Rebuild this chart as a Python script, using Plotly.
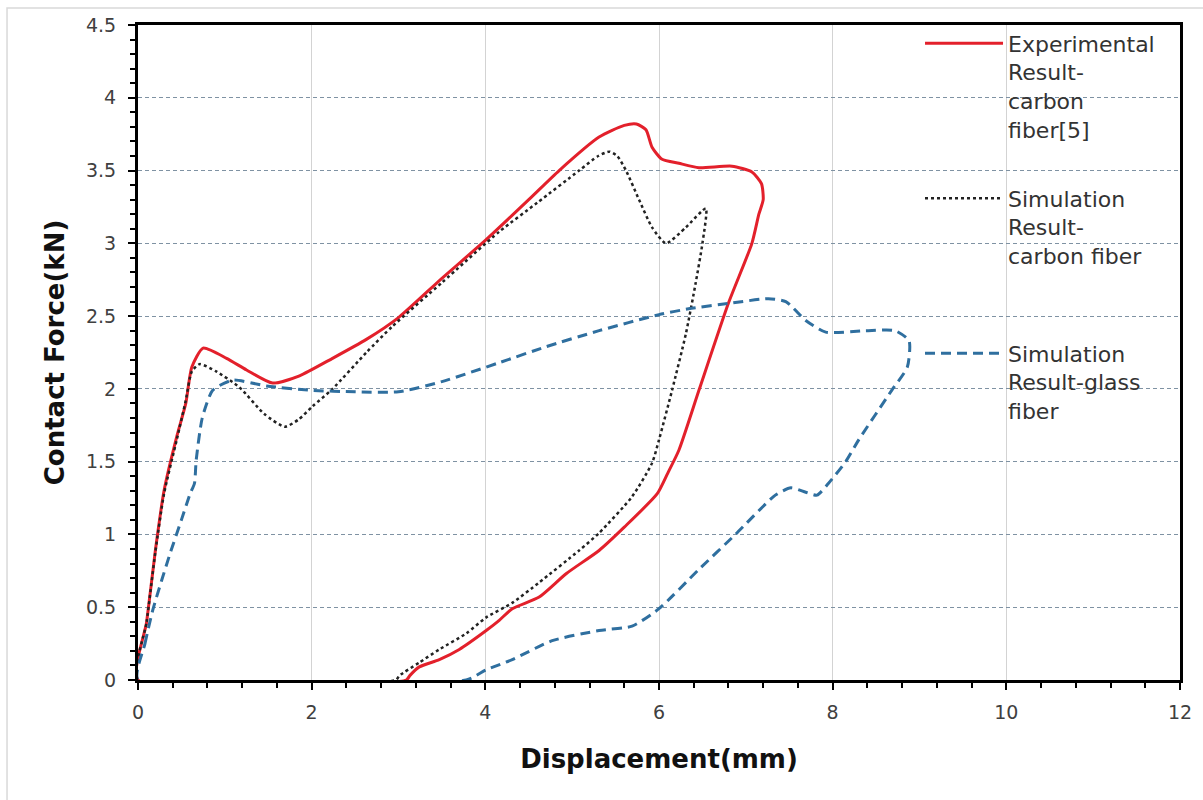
import plotly.graph_objects as go

# Experimental result, carbon fibre (loading + unloading loop)
exp_x = [0, 0.1, 0.2, 0.3, 0.45, 0.55, 0.62, 0.75, 1.02, 1.25, 1.55, 1.86, 2.24, 2.63,
         3.0, 3.5, 4.0, 4.5, 4.85, 5.31, 5.6, 5.74, 5.85, 5.92, 6.03, 6.23, 6.46, 6.84,
         7.07, 7.18, 7.2, 7.15, 7.07, 6.8, 6.46, 6.23, 6.1, 5.98, 5.6, 5.31, 4.93, 4.62,
         4.31, 4.16, 4.01, 3.7, 3.47, 3.24, 3.13, 3.09, 0]
exp_y = [0, 0.4, 0.89, 1.3, 1.68, 1.9, 2.15, 2.28, 2.21, 2.13, 2.04, 2.09, 2.21, 2.34,
         2.49, 2.76, 3.02, 3.3, 3.5, 3.73, 3.81, 3.82, 3.78, 3.66, 3.58, 3.55, 3.52, 3.53,
         3.49, 3.41, 3.3, 3.2, 3.0, 2.59, 1.99, 1.58, 1.42, 1.28, 1.05, 0.89, 0.73, 0.57,
         0.49, 0.41, 0.34, 0.21, 0.14, 0.09, 0.03, 0.0, 0]

# Simulation result, carbon fibre
simc_x = [0, 0.1, 0.2, 0.3, 0.45, 0.55, 0.62, 0.71, 0.9, 1.17, 1.45, 1.69, 1.85, 2.01,
          2.24, 2.63, 2.93, 3.5, 4.16, 4.6, 5.08, 5.3, 5.43, 5.52, 5.62, 5.77, 5.92, 6.08,
          6.31, 6.54, 6.5, 6.42, 6.31, 6.15, 6.0, 5.92, 5.69, 5.31, 5.08, 4.62, 4.31,
          4.01, 3.78, 3.47, 3.24, 3.01, 2.97, 0]
simc_y = [0, 0.4, 0.88, 1.28, 1.66, 1.92, 2.12, 2.17, 2.12, 2.01, 1.83, 1.74, 1.79, 1.88,
          2.0, 2.25, 2.43, 2.73, 3.08, 3.28, 3.5, 3.6, 3.63, 3.6, 3.5, 3.3, 3.11, 3.0,
          3.11, 3.24, 3.0, 2.72, 2.38, 1.99, 1.65, 1.49, 1.26, 1.01, 0.89, 0.67, 0.53,
          0.43, 0.32, 0.21, 0.12, 0.03, 0.0, 0]

# Simulation result, glass fibre
simg_x = [0, 0.08, 0.17, 0.27, 0.37, 0.5, 0.6, 0.65, 0.67, 0.74, 0.86, 1.09, 1.48, 2.0,
          2.5, 3.0, 3.5, 4.16, 4.7, 5.31, 6.0, 6.34, 6.84, 7.26, 7.46, 7.69, 7.92, 8.38,
          8.72, 8.88, 8.86, 8.68, 8.3, 8.15, 7.95, 7.82, 7.69, 7.52, 7.34, 6.88, 6.46,
          6.0, 5.69, 5.31, 4.77, 4.31, 4.01, 3.78, 0]
simg_y = [0, 0.25, 0.48, 0.68, 0.87, 1.1, 1.28, 1.35, 1.51, 1.8, 1.99, 2.06, 2.02, 1.99,
          1.98, 1.98, 2.05, 2.18, 2.29, 2.4, 2.51, 2.55, 2.59, 2.62, 2.6, 2.47, 2.39, 2.4,
          2.4, 2.33, 2.15, 1.99, 1.65, 1.5, 1.35, 1.27, 1.29, 1.32, 1.27, 1.0, 0.76,
          0.49, 0.37, 0.34, 0.27, 0.14, 0.07, 0.0, 0]

series_names = [
    "Experimental<br>Result-<br>carbon<br>fiber[5]<br> ",
    "Simulation<br>Result-<br>carbon fiber<br> <br> ",
    "Simulation<br>Result-glass<br>fiber",
]

x_ticks = [0, 2, 4, 6, 8, 10, 12]
y_ticks = [0, 0.5, 1, 1.5, 2, 2.5, 3, 3.5, 4, 4.5]

FONT = "DejaVu Sans"
TEXT = "#333333"

fig = go.Figure()
fig.add_trace(go.Scatter(
    x=exp_x, y=exp_y, mode="lines", name=series_names[0], legendgroup="a",
    line=dict(color="#e3202b", width=3, shape="spline", smoothing=0.6),
))
fig.add_trace(go.Scatter(
    x=simc_x, y=simc_y, mode="lines", name=series_names[1], legendgroup="b",
    line=dict(color="#222222", width=2.5, dash="dot", shape="spline", smoothing=0.6),
))
fig.add_trace(go.Scatter(
    x=simg_x, y=simg_y, mode="lines", name=series_names[2], legendgroup="c",
    line=dict(color="#2f6f9f", width=3, dash="10px,6px", shape="spline", smoothing=0.6),
))

fig.update_layout(
    width=1203, height=800,
    margin=dict(l=138, r=23, t=25, b=120),
    paper_bgcolor="white", plot_bgcolor="white",
    font=dict(family=FONT, color=TEXT),
    legend=dict(
        x=0.7505, y=1.004, xanchor="left", yanchor="top",
        bgcolor="rgba(0,0,0,0)", borderwidth=0,
        font=dict(size=22, family=FONT, color=TEXT),
        valign="top", tracegroupgap=9, itemwidth=78, maxheight=760,
    ),
    shapes=[dict(
        type="rect", xref="paper", yref="paper",
        x0=-0.1257, x1=1.03, y0=-0.2, y1=1.026,
        line=dict(color="#d9d9d9", width=1.5), fillcolor="rgba(0,0,0,0)", layer="below",
    )],
)

fig.update_xaxes(
    range=[0, 12], tickvals=x_ticks, ticktext=[str(v) for v in x_ticks],
    showline=True, linecolor="black", linewidth=3, mirror=True,
    ticks="outside", ticklen=7, tickwidth=2, tickcolor="black",
    minor=dict(ticks="outside", dtick=0.4, ticklen=5, tickwidth=1.5, tickcolor="black",
               showgrid=False),
    showgrid=True, gridcolor="#d3d3d3", gridwidth=1,
    zeroline=False,
    ticklabelstandoff=6,
    tickfont=dict(size=19, color="#404040", family=FONT),
    title=dict(text="<b>Displacement(mm)</b>", font=dict(size=26, color="#111111", family=FONT),
               standoff=29),
)
fig.update_yaxes(
    range=[0, 4.5], tickvals=y_ticks, ticktext=[f"{v:g}" for v in y_ticks],
    showline=True, linecolor="black", linewidth=3, mirror=True,
    ticks="outside", ticklen=7, tickwidth=2, tickcolor="black",
    minor=dict(ticks="outside", dtick=0.1, ticklen=5, tickwidth=1.5, tickcolor="black",
               showgrid=False),
    showgrid=True, gridcolor="#7f92a3", gridwidth=1, griddash="4px,3px",
    zeroline=False,
    ticklabelstandoff=8,
    tickfont=dict(size=19, color="#404040", family=FONT),
    title=dict(text="<b>Contact Force(kN)</b>", font=dict(size=26, color="#111111", family=FONT),
               standoff=14),
)

fig.write_html("out.html")
